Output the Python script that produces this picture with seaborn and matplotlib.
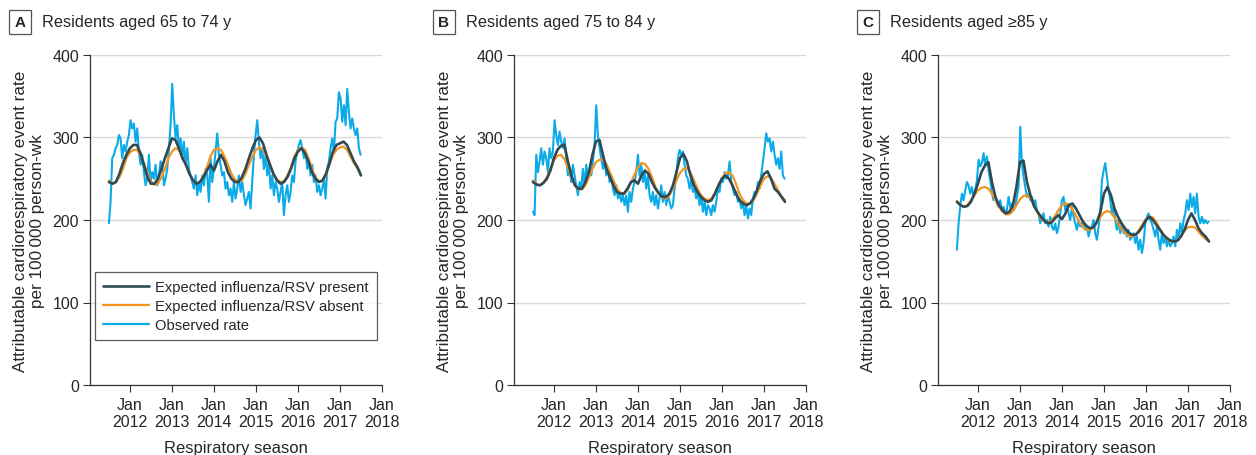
import numpy as np
import pandas as pd
import seaborn as sns
import matplotlib.pyplot as plt
from matplotlib.lines import Line2D

# observed weekly rate, read roughly every second week (Jul 2011 - Jun 2017)
obs_a = [196, 222, 275, 279, 287, 291, 303, 299, 275, 291, 283, 295, 303, 321, 311, 317, 295, 311, 283, 267,
         279, 258, 242, 250, 279, 246, 258, 250, 267, 242, 254, 271, 267, 242, 250, 262, 287, 315, 365, 327,
         299, 315, 287, 299, 275, 295, 267, 287, 262, 254, 246, 238, 254, 230, 246, 234, 254, 242, 262, 254,
         222, 275, 246, 262, 283, 305, 279, 267, 254, 258, 238, 246, 230, 238, 222, 246, 226, 238, 254, 234,
         246, 230, 218, 226, 234, 214, 246, 279, 303, 321, 295, 275, 287, 262, 279, 254, 271, 238, 254, 230,
         246, 238, 222, 234, 246, 206, 230, 242, 222, 234, 254, 246, 271, 283, 291, 297, 287, 275, 283, 262,
         271, 254, 267, 246, 254, 234, 242, 230, 238, 250, 226, 262, 271, 287, 299, 283, 319, 323, 355, 347,
         319, 339, 315, 359, 331, 311, 323, 311, 303, 311, 287, 279]
obs_b = [210, 206, 279, 258, 271, 287, 267, 283, 275, 258, 287, 275, 283, 321, 303, 291, 307, 295, 287, 299,
         275, 254, 262, 246, 267, 254, 242, 230, 246, 238, 262, 242, 267, 250, 262, 254, 271, 291, 339, 303,
         287, 275, 262, 271, 254, 262, 246, 254, 238, 230, 242, 226, 234, 222, 230, 218, 230, 210, 234, 222,
         238, 246, 258, 279, 254, 267, 246, 258, 238, 254, 230, 222, 234, 218, 230, 214, 226, 242, 222, 234,
         218, 230, 222, 214, 218, 238, 254, 275, 285, 279, 283, 267, 254, 250, 238, 250, 234, 238, 226, 234,
         218, 230, 210, 222, 206, 218, 214, 206, 218, 210, 222, 238, 234, 250, 246, 258, 250, 254, 271, 246,
         238, 230, 234, 222, 226, 214, 222, 206, 218, 202, 214, 206, 226, 234, 230, 246, 238, 254, 271, 287,
         305, 295, 299, 283, 295, 279, 267, 275, 262, 283, 254, 250]
obs_c = [164, 196, 216, 232, 224, 236, 246, 242, 232, 240, 228, 236, 248, 273, 265, 269, 281, 265, 277, 260,
         248, 232, 224, 228, 220, 216, 224, 212, 216, 208, 212, 228, 216, 220, 212, 216, 228, 240, 313, 269,
         252, 240, 228, 232, 224, 228, 220, 224, 212, 208, 196, 204, 208, 196, 200, 192, 204, 192, 188, 196,
         184, 192, 208, 224, 228, 212, 220, 208, 200, 216, 204, 196, 188, 200, 192, 196, 196, 188, 192, 180,
         188, 192, 200, 184, 176, 192, 208, 248, 260, 269, 252, 236, 224, 208, 216, 200, 188, 200, 184, 196,
         184, 188, 180, 188, 176, 180, 184, 172, 180, 164, 176, 160, 172, 196, 204, 208, 200, 196, 188, 180,
         192, 176, 164, 184, 172, 180, 168, 176, 168, 172, 180, 168, 188, 176, 196, 184, 200, 208, 224, 212,
         232, 216, 228, 208, 232, 204, 196, 204, 196, 200, 196, 198]

# expected rates, read about once a month
present_a = [246, 244, 246, 256, 269, 279, 287, 291, 291, 281, 267, 252, 244, 244, 250, 262, 275, 287, 299, 297,
             287, 275, 267, 256, 248, 244, 246, 252, 260, 267, 260, 271, 279, 271, 258, 250, 246, 246, 252, 262,
             275, 287, 297, 300, 293, 279, 267, 256, 248, 244, 246, 252, 262, 275, 283, 287, 281, 271, 258, 250,
             246, 248, 256, 269, 283, 291, 293, 295, 291, 281, 271, 264, 254]
absent_a = [248, 244, 246, 252, 262, 275, 282, 285, 285, 279, 269, 256, 247, 243, 244, 252, 262, 275, 283, 287,
            285, 277, 267, 256, 248, 244, 246, 254, 264, 277, 285, 287, 285, 277, 267, 256, 249, 246, 248, 256,
            267, 277, 285, 288, 286, 277, 267, 256, 249, 246, 247, 254, 264, 277, 285, 288, 285, 275, 262, 252,
            247, 247, 254, 267, 279, 285, 288, 289, 285, 277, 269, 262, 255]
present_b = [246, 243, 242, 245, 250, 260, 275, 285, 290, 291, 271, 254, 242, 238, 238, 246, 258, 279, 295, 297,
             279, 262, 252, 242, 234, 232, 232, 238, 246, 248, 244, 254, 260, 256, 246, 238, 232, 228, 228, 232,
             242, 258, 275, 280, 271, 254, 242, 234, 228, 224, 222, 224, 232, 242, 250, 254, 250, 242, 232, 224,
             220, 218, 220, 226, 236, 248, 256, 259, 250, 238, 234, 228, 222]
absent_b = [248, 244, 242, 245, 252, 262, 272, 278, 279, 274, 264, 252, 242, 237, 237, 242, 252, 262, 270, 273,
            273, 268, 258, 248, 238, 233, 232, 236, 245, 255, 264, 269, 268, 262, 252, 240, 232, 227, 226, 230,
            238, 248, 257, 262, 263, 258, 248, 238, 230, 226, 224, 226, 233, 242, 251, 257, 258, 254, 244, 232,
            224, 220, 220, 224, 232, 242, 250, 253, 251, 244, 236, 229, 224]
present_c = [222, 218, 216, 217, 222, 232, 244, 258, 266, 270, 246, 228, 218, 212, 208, 210, 218, 240, 270, 272,
             246, 230, 217, 210, 204, 199, 196, 197, 202, 206, 201, 208, 218, 220, 214, 206, 198, 193, 190, 191,
             198, 210, 232, 240, 230, 214, 204, 196, 190, 185, 182, 182, 186, 192, 200, 204, 200, 194, 188, 182,
             178, 175, 174, 175, 180, 188, 200, 208, 200, 190, 184, 180, 174]
absent_c = [223, 218, 216, 218, 224, 230, 236, 239, 240, 238, 232, 224, 216, 210, 207, 207, 211, 218, 225, 229,
            230, 226, 218, 209, 202, 198, 197, 199, 205, 212, 218, 220, 219, 213, 205, 197, 191, 188, 188, 191,
            197, 204, 209, 211, 209, 203, 196, 189, 184, 181, 180, 182, 188, 195, 201, 204, 203, 197, 189, 182,
            177, 174, 174, 176, 181, 187, 191, 192, 191, 186, 181, 177, 174]

panel_letters = ['A', 'B', 'C']
panel_titles = ['Residents aged 65 to 74 y', 'Residents aged 75 to 84 y', 'Residents aged \u226585 y']
tick_years = [2012, 2013, 2014, 2015, 2016, 2017, 2018]
tick_labels = ['Jan\n{}'.format(y) for y in tick_years]
legend_labels = ['Expected influenza/RSV present', 'Expected influenza/RSV absent', 'Observed rate']

col_obs = '#0aabe8'
col_present = '#2f4a55'
col_absent = '#f5931e'

sns.set_style('white')
plt.rcParams['font.family'] = ['Liberation Sans', 'DejaVu Sans']

fig = plt.figure(figsize=(12.56, 4.56), dpi=100)

panels = [(obs_a, present_a, absent_a), (obs_b, present_b, absent_b), (obs_c, present_c, absent_c)]
lefts = [90, 514, 938]

for i, (obs, pres, absn) in enumerate(panels):
    ax = fig.add_axes([lefts[i] / 1256, 70 / 456, 292 / 1256, 330 / 456])
    x_obs = np.linspace(2011.5, 2017.49, len(obs))
    x_exp = np.linspace(2011.5, 2017.5, len(pres))
    sns.lineplot(x=x_obs, y=obs, ax=ax, color=col_obs, linewidth=1.5)
    sns.lineplot(x=x_exp, y=absn, ax=ax, color=col_absent, linewidth=1.6)
    sns.lineplot(x=x_exp, y=pres, ax=ax, color=col_present, linewidth=1.9)

    ax.set_xlim(2011.05, 2018.0)
    ax.set_ylim(0, 400)
    ax.set_yticks([0, 100, 200, 300, 400])
    ax.set_xticks(tick_years)
    ax.set_xticklabels(tick_labels, fontsize=11.5, linespacing=1.15)
    ax.tick_params(axis='y', labelsize=11.5, length=5, width=0.8, color='#333333', direction='out', left=True, pad=3)
    ax.tick_params(axis='x', length=5, width=0.8, color='#333333', direction='out', bottom=True, pad=4)
    ax.grid(axis='y', color='#d9d9d9', linewidth=1.0)
    ax.set_axisbelow(True)
    for side in ['top', 'right']:
        ax.spines[side].set_visible(False)
    for side in ['left', 'bottom']:
        ax.spines[side].set_color('#333333')
        ax.spines[side].set_linewidth(0.9)
    ax.set_xlabel('Respiratory season', fontsize=12, labelpad=8)
    ax.set_ylabel('Attributable cardiorespiratory event rate\nper 100\u2009000 person-wk', fontsize=12.3, labelpad=5,
                  linespacing=1.2)

    fig.text((lefts[i] - 70) / 1256, 1 - 23 / 456, panel_letters[i], fontsize=11, fontweight='bold', ha='center',
             va='center', bbox=dict(boxstyle='square,pad=0.35', facecolor='white', edgecolor='#555555', linewidth=0.9))
    fig.text((lefts[i] - 48) / 1256, 1 - 22 / 456, panel_titles[i], fontsize=11.7, ha='left', va='center')

    if i == 0:
        handles = [Line2D([], [], color=col_present, linewidth=1.9),
                   Line2D([], [], color=col_absent, linewidth=1.6),
                   Line2D([], [], color=col_obs, linewidth=1.6)]
        leg = ax.legend(handles, legend_labels, loc='lower left', bbox_to_anchor=(0.017, 0.136), fontsize=10.6,
                        frameon=True, fancybox=False, handlelength=3.1, handletextpad=0.45, borderpad=0.55,
                        labelspacing=0.35, borderaxespad=0)
        leg.get_frame().set_edgecolor('#333333')
        leg.get_frame().set_linewidth(0.9)

fig.savefig('out.png', dpi=100)
